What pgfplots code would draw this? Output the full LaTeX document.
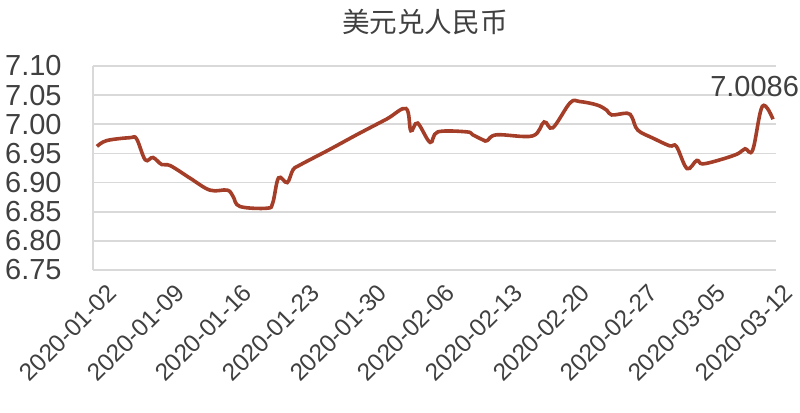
\documentclass[border=0pt]{standalone}
\usepackage{fontspec}
\setmainfont{Liberation Sans}
\newfontfamily\cjk{Noto Sans CJK SC}
\usepackage{pgfplots}
\pgfplotsset{compat=1.18}
\definecolor{usdcny}{RGB}{165,62,40}
\definecolor{gridgray}{RGB}{217,217,217}
\definecolor{labelgray}{RGB}{64,64,64}

% day = days since 2020-01-02
\pgfplotstableread{
day value
0.0 6.962
1.0 6.972
3.4 6.977
4.1 6.975
5.0 6.939
5.8 6.943
6.7 6.931
7.6 6.929
9.6 6.908
11.7 6.887
13.5 6.887
14.1 6.876
14.8 6.859
17.6 6.856
18.2 6.865
18.8 6.908
19.7 6.900
20.3 6.922
21.0 6.930
24.0 6.956
27.0 6.983
30.0 7.009
32.0 7.027
32.5 6.989
33.2 7.002
34.5 6.969
35.3 6.987
38.3 6.987
38.9 6.982
40.0 6.973
40.4 6.972
41.4 6.982
45.1 6.980
46.3 7.004
47.2 6.994
49.0 7.037
50.0 7.039
51.8 7.033
52.8 7.024
53.3 7.016
54.9 7.019
55.4 7.012
56.0 6.990
57.6 6.976
59.3 6.963
60.0 6.962
61.1 6.924
62.1 6.938
62.7 6.932
64.5 6.939
66.3 6.949
67.1 6.958
67.9 6.956
68.9 7.031
70.0 7.0086
}\fx

\begin{document}
\begin{tikzpicture}
\begin{axis}[
  name=ax,
  scale only axis,
  width=341.5pt, height=102pt,
  xmin=-0.41, xmax=70.31,
  ymin=6.75, ymax=7.10,
  xtick={0,7,14,21,28,35,42,49,56,63,70},
  xticklabels={2020-01-02,2020-01-09,2020-01-16,2020-01-23,2020-01-30,2020-02-06,2020-02-13,2020-02-20,2020-02-27,2020-03-05,2020-03-12},
  ytick={6.75,6.80,6.85,6.90,6.95,7.00,7.05,7.10},
  /pgf/number format/fixed,
  /pgf/number format/fixed zerofill,
  /pgf/number format/precision=2,
  /pgf/number format/assume math mode=true,
  tick label style={font=\fontsize{14.5}{16}\selectfont, text=labelgray},
  yticklabel style={inner sep=0pt, xshift=-15.5pt},
  xticklabel style={rotate=45, anchor=east, inner sep=0pt, xshift=-1pt, yshift=-12pt, font=\fontsize{12.2}{14}\selectfont},
  major tick length=0pt,
  ymajorgrids,
  grid style={gridgray, line width=0.8pt},
  axis x line*=bottom,
  axis y line*=left,
  x axis line style={gridgray, line width=0.8pt, -},
  y axis line style={gridgray, line width=0.8pt, -},
  clip=false,
]
\addplot[usdcny, line width=1.8pt, smooth, tension=0.6] table[x=day, y=value] {\fx};
\node[font=\fontsize{14.5}{16}\selectfont, text=labelgray] at (axis cs:68.1,7.064) {7.0086};
\end{axis}
\node[font=\cjk\fontsize{13.8}{16}\selectfont, text=labelgray] at ([shift={(166pt,22pt)}]ax.north west) {美元兑人民币};
\pgfresetboundingbox
\path ([shift={(-46.5pt,-71.5pt)}]ax.south west) rectangle ([shift={(353.5pt,135pt)}]ax.south west);
\end{tikzpicture}
\end{document}
